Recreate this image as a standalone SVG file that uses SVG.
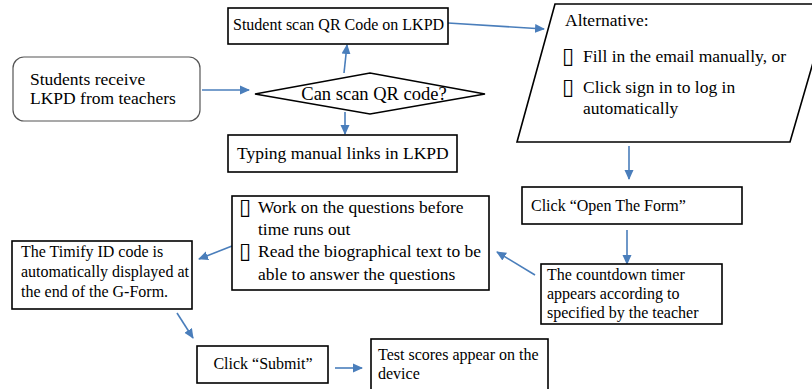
<svg xmlns="http://www.w3.org/2000/svg" width="812" height="389" viewBox="0 0 812 389">
  <defs>
    <marker id="arrow" markerUnits="userSpaceOnUse" markerWidth="10" markerHeight="10" viewBox="0 0 10 10" refX="9" refY="5" orient="auto">
      <path d="M0,0.5 L10,5 L0,9.5 Z" fill="#4a7ebb"/>
    </marker>
  </defs>
  <style>
    .box { fill: #ffffff; stroke: #000000; stroke-width: 1.6; }
    .soft { fill: #ffffff; stroke: #555555; stroke-width: 1.2; }
    text { font-family: 'Liberation Serif', 'DejaVu Serif', 'Times New Roman', serif; fill: #000000; }
    .s16 { font-size: 16px; }
    .s17 { font-size: 17.5px; }
    .s18 { font-size: 18.5px; }
    text.bul { font-family: 'DejaVu Sans', sans-serif; font-size: 22px; }
    .conn { fill: none; stroke: #4a7ebb; stroke-width: 1.6; marker-end: url(#arrow); }
  </style>

  <rect width="812" height="389" fill="#ffffff"/>

  <!-- connectors -->
  <g id="connectors">
    <line class="conn" x1="202" y1="90" x2="249" y2="90"/>
    <line class="conn" x1="344" y1="73" x2="347" y2="45"/>
    <line class="conn" x1="345" y1="112" x2="345" y2="134"/>
    <line class="conn" x1="448" y1="23" x2="544" y2="29"/>
    <line class="conn" x1="629" y1="146" x2="629" y2="179"/>
    <line class="conn" x1="627" y1="230" x2="627" y2="264"/>
    <line class="conn" x1="535" y1="275" x2="497" y2="252"/>
    <line class="conn" x1="232" y1="246" x2="199" y2="259"/>
    <line class="conn" x1="177" y1="313" x2="193" y2="338"/>
    <line class="conn" x1="335" y1="368" x2="362" y2="368"/>
  </g>

  <!-- start -->
  <g id="node-receive">
    <rect class="soft" x="13" y="57" width="187" height="64" rx="11" ry="11"/>
    <text class="s17" x="30" y="85">Students receive</text>
    <text class="s17" x="30" y="104">LKPD from teachers</text>
  </g>

  <!-- decision -->
  <g id="node-decision">
    <polygon class="box" points="255,94 370,73 485,94 370,114"/>
    <text class="s18" x="374" y="100" text-anchor="middle">Can scan QR code?</text>
  </g>

  <g id="node-scan">
    <rect class="box" x="228" y="8" width="220" height="36"/>
    <text class="s16" x="233" y="30">Student scan QR Code on LKPD</text>
  </g>

  <g id="node-typing">
    <rect class="box" x="228" y="135" width="229" height="37"/>
    <text class="s17" x="237" y="159">Typing manual links in LKPD</text>
  </g>

  <!-- alternative input -->
  <g id="node-alternative">
    <polygon class="box" points="555,4 830,4 790,142 517,142"/>
    <text class="s17" x="565" y="26">Alternative:</text>
    <text class="bul" x="562" y="63">▯</text>
    <text class="s17" x="583" y="62">Fill in the email manually, or</text>
    <text class="bul" x="562" y="94">▯</text>
    <text class="s17" x="583" y="93">Click sign in to log in</text>
    <text class="s17" x="583" y="114">automatically</text>
  </g>

  <g id="node-open-form">
    <rect class="box" x="522" y="187" width="220" height="37"/>
    <text class="s16" x="531" y="211">Click “Open The Form”</text>
  </g>

  <g id="node-countdown">
    <rect class="box" x="541" y="264" width="181" height="60"/>
    <text class="s16" x="547" y="280">The countdown timer</text>
    <text class="s16" x="547" y="299">appears according to</text>
    <text class="s16" x="547" y="318">specified by the teacher</text>
  </g>

  <g id="node-work">
    <rect class="box" x="232" y="196" width="257" height="94"/>
    <text class="bul" x="239" y="214">▯</text>
    <text class="s17" x="258" y="213">Work on the questions before</text>
    <text class="s17" x="258" y="235">time runs out</text>
    <text class="bul" x="239" y="258">▯</text>
    <text class="s17" x="258" y="257">Read the biographical text to be</text>
    <text class="s17" x="258" y="280">able to answer the questions</text>
  </g>

  <g id="node-timify">
    <rect class="box" x="12" y="241" width="180" height="68"/>
    <text class="s16" x="21" y="257">The Timify ID code is</text>
    <text class="s16" x="21" y="277">automatically displayed at</text>
    <text class="s16" x="21" y="297">the end of the G-Form.</text>
  </g>

  <g id="node-submit">
    <rect class="box" x="197" y="346" width="131" height="37"/>
    <text class="s16" x="263" y="369" text-anchor="middle">Click “Submit”</text>
  </g>

  <g id="node-scores">
    <rect class="box" x="371" y="339" width="177" height="56"/>
    <text class="s16" x="378" y="360">Test scores appear on the</text>
    <text class="s16" x="378" y="379">device</text>
  </g>
</svg>
